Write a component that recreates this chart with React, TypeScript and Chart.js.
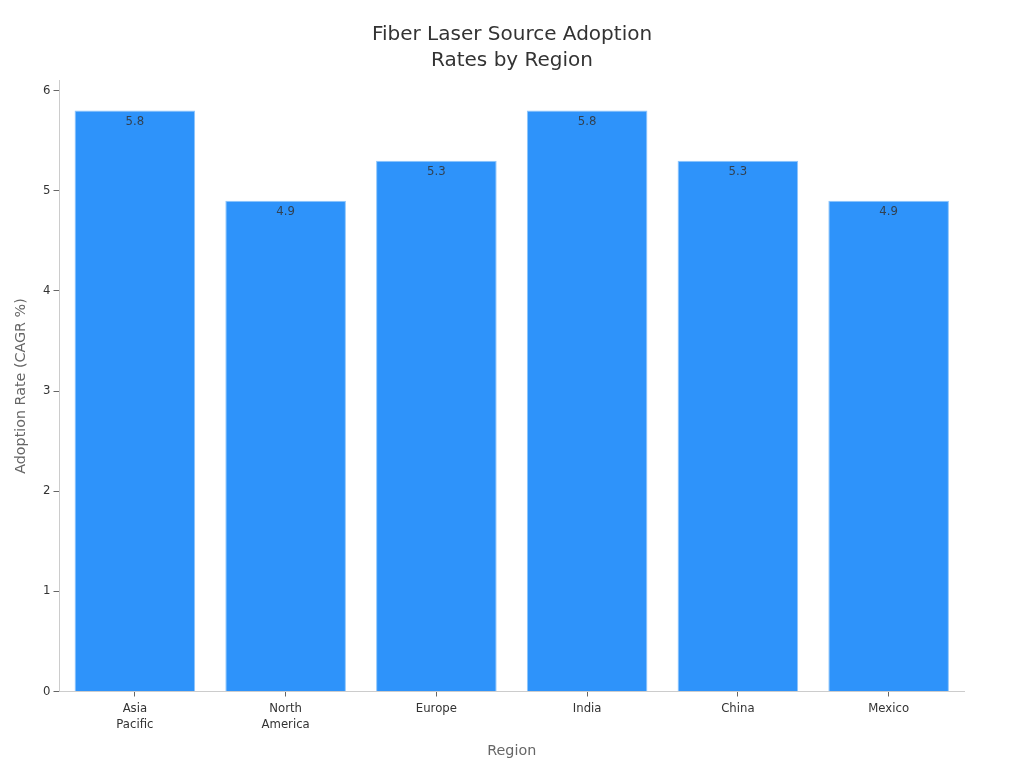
import React, { useEffect, useRef } from "react";
import { Chart, registerables } from "chart.js";

Chart.register(...registerables);

const categories = [["Asia", "Pacific"], ["North", "America"], "Europe", "India", "China", "Mexico"];
const adoptionRates = [5.8, 4.9, 5.3, 5.8, 5.3, 4.9];
const chartTitle = ["Fiber Laser Source Adoption", "Rates by Region"];
const FONT = "'DejaVu Sans', sans-serif";

const valueLabels = {
  id: "valueLabels",
  afterLayout(chart: any) {
    // centre the title on the whole canvas rather than on the padded box
    chart.titleBlock.left = 0;
    chart.titleBlock.right = chart.width;
  },
  afterDatasetsDraw(chart: any) {
    const { ctx } = chart;
    const meta = chart.getDatasetMeta(0);
    ctx.save();
    ctx.font = `11.7px ${FONT}`;
    ctx.fillStyle = "rgba(51,51,51,0.85)";
    ctx.textAlign = "center";
    ctx.textBaseline = "middle";
    meta.data.forEach((bar: any, i: number) => {
      ctx.fillText(String(adoptionRates[i]), bar.x, bar.y + 11);
    });
    ctx.restore();
  },
};

export default function App() {
  const ref = useRef<HTMLCanvasElement | null>(null);
  useEffect(() => {
    document.body.style.margin = "0";
    const chart = new Chart(ref.current!, {
      type: "bar",
      data: {
        labels: categories as any,
        datasets: [
          {
            data: adoptionRates,
            backgroundColor: "#2E93FA",
            borderColor: "#8FC6FB",
            borderWidth: 1,
            categoryPercentage: 1,
            barPercentage: 0.8,
          },
        ],
      },
      options: {
        animation: false,
        responsive: false,
        devicePixelRatio: 1,
        layout: { padding: { left: 13, right: 60, top: 22, bottom: 8 } },
        plugins: {
          legend: { display: false },
          tooltip: { enabled: false },
          title: {
            display: true,
            text: chartTitle,
            color: "#333333",
            font: { family: FONT, size: 20, weight: "normal", lineHeight: 1.3 },
            padding: { top: 0, bottom: 6.5 },
          },
        },
        scales: {
          x: {
            grid: { drawOnChartArea: false, offset: false, tickLength: 5, tickColor: "#666666" },
            border: { color: "#CCCCCC" },
            ticks: { color: "#333333", font: { family: FONT, size: 11.7, lineHeight: 1.37 }, maxRotation: 0, padding: 4 },
            title: {
              display: true,
              text: "Region",
              color: "#666666",
              font: { family: FONT, size: 14.3 },
              padding: { top: 10, bottom: 0 },
            },
            afterFit(s: any) { s.height = 68.5; },
          },
          y: {
            min: 0,
            max: 6.1,
            grid: { drawOnChartArea: false, tickLength: 6, tickColor: "#666666" },
            border: { color: "#CCCCCC" },
            ticks: { stepSize: 1, includeBounds: false, color: "#333333", font: { family: FONT, size: 11.7 }, padding: 3 },
            title: {
              display: true,
              text: "Adoption Rate (CAGR %)",
              color: "#666666",
              font: { family: FONT, size: 14.3 },
              padding: { top: 0, bottom: 0 },
            },
            afterFit(s: any) { s.width = 46.5; },
          },
        },
      },
      plugins: [valueLabels],
    } as any);
    return () => chart.destroy();
  }, []);
  return <canvas ref={ref} width={1024} height={768} style={{ display: "block" }} />;
}
